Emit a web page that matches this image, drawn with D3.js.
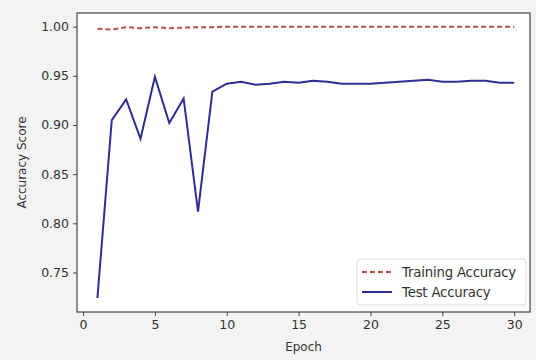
<!DOCTYPE html>
<html><head><meta charset="utf-8">
<script src="https://cdn.jsdelivr.net/npm/d3@7"></script>
<style>body{margin:0;background:#f3f3f3}svg{display:block}text{font-family:"DejaVu Sans",sans-serif;fill:#333}</style>
</head><body><svg id="c" width="536" height="360"></svg>
<script>
const epochs = d3.range(1, 31);
const trainingAcc = [0.998,0.997,0.9995,0.9985,0.9995,0.9985,0.999,0.9995,0.9995,1.0,1.0,1.0,1.0,1.0,1.0,1.0,1.0,1.0,1.0,1.0,1.0,1.0,1.0,1.0,1.0,1.0,1.0,1.0,1.0,1.0];
const testAcc = [0.724,0.905,0.926,0.886,0.949,0.902,0.927,0.812,0.934,0.942,0.944,0.941,0.942,0.944,0.943,0.945,0.944,0.942,0.942,0.942,0.943,0.944,0.945,0.946,0.944,0.944,0.945,0.945,0.943,0.943];
const xTicks = [0,5,10,15,20,25,30];
const yTicks = [0.75,0.80,0.85,0.90,0.95,1.00];
const seriesNames = ["Training Accuracy","Test Accuracy"];

const svg = d3.select("#c");
const L=77, R=530, T=13, B=312;
svg.append("rect").attr("width",536).attr("height",360).attr("fill","#f3f3f3");
svg.append("rect").attr("x",L).attr("y",T).attr("width",R-L).attr("height",B-T).attr("fill","#fff");

const x = d3.scaleLinear().domain([-0.42,31.1]).range([L,R]);
const y = d3.scaleLinear().domain([0.7098,1.0139]).range([B,T]);

const xa = svg.append("g").attr("transform",`translate(0,${B})`)
  .call(d3.axisBottom(x).tickValues(xTicks).tickSize(4).tickPadding(4).tickFormat(d3.format("d")));
const ya = svg.append("g").attr("transform",`translate(${L},0)`)
  .call(d3.axisLeft(y).tickValues(yTicks).tickSize(4).tickPadding(4).tickFormat(d3.format(".2f")));
[xa,ya].forEach(a=>{a.select(".domain").remove();a.selectAll("line").attr("stroke","#444");a.selectAll("text").attr("font-size",12.5).attr("fill","#333").style("font-family","DejaVu Sans");});

const line = d3.line().x((d,i)=>x(epochs[i])).y(d=>y(d));
svg.append("path").datum(trainingAcc).attr("d",line).attr("fill","none").attr("stroke","#b8504a").attr("stroke-width",2).attr("stroke-dasharray","5,3");
svg.append("path").datum(testAcc).attr("d",line).attr("fill","none").attr("stroke","#2e2e92").attr("stroke-width",2);

svg.append("rect").attr("x",L).attr("y",T).attr("width",R-L).attr("height",B-T).attr("fill","none").attr("stroke","#444").attr("stroke-width",1.2);

svg.append("text").attr("x",(L+R)/2).attr("y",351).attr("text-anchor","middle").attr("font-size",12).text("Epoch");
svg.append("text").attr("transform",`translate(26,${(T+B)/2}) rotate(-90)`).attr("text-anchor","middle").attr("font-size",12).text("Accuracy Score");

const lg = svg.append("g");
lg.append("rect").attr("x",357).attr("y",259).attr("width",169).attr("height",46).attr("rx",3).attr("fill","#fff").attr("stroke","#ddd");
const styles=[{c:"#b8504a",d:"5,3"},{c:"#2e2e92",d:null}];
seriesNames.forEach((n,i)=>{
  const yy = 272 + i*20;
  lg.append("line").attr("x1",362).attr("x2",392).attr("y1",yy).attr("y2",yy).attr("stroke",styles[i].c).attr("stroke-width",2).attr("stroke-dasharray",styles[i].d);
  lg.append("text").attr("x",402).attr("y",yy+4.5).attr("font-size",13.3).style("letter-spacing","-0.2px").text(n);
});
</script></body></html>
